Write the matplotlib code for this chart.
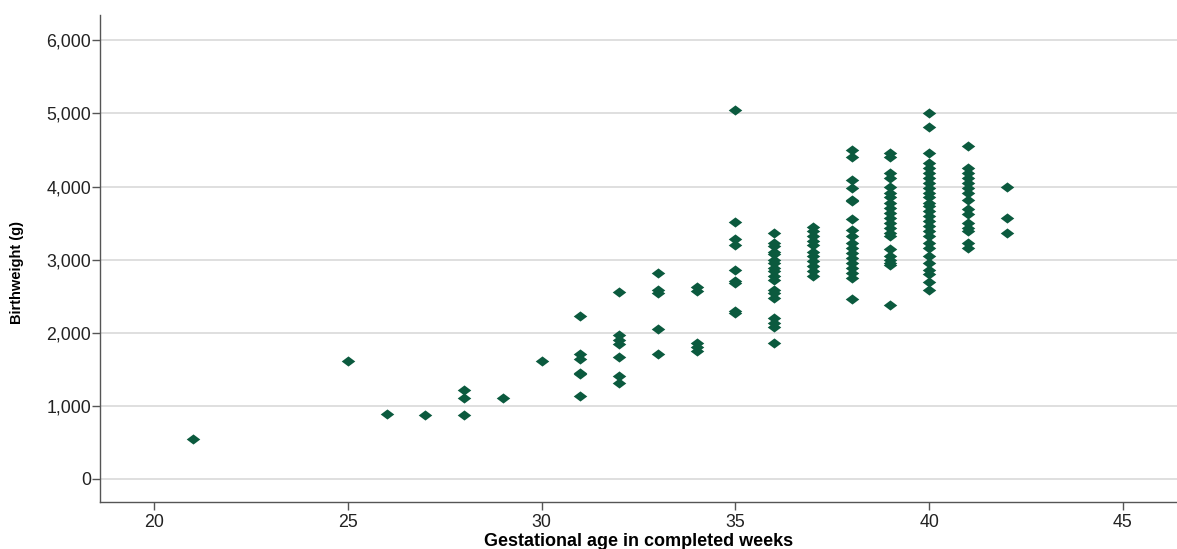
import numpy as np
from matplotlib import pyplot as plt
from matplotlib.path import Path
from matplotlib.ticker import FuncFormatter

# birthweight (g) by completed week of gestation
weeks = [21, 25, 26, 27, 28, 29, 30, 31, 32, 33, 34, 35, 36, 37, 38, 39, 40, 41, 42]
weights = [
    [550],
    [1610],
    [880],
    [870],
    [1220, 1100, 870],
    [1100],
    [1610],
    [2230, 1710, 1640, 1450, 1430, 1130],
    [2550, 1970, 1900, 1840, 1670, 1410, 1310],
    [2820, 2590, 2540, 2050, 1710],
    [2620, 2575, 1860, 1810, 1745],
    [5050, 3510, 3280, 3200, 2860, 2710, 2680, 2290, 2270],
    [3370, 3230, 3180, 3110, 3070, 3000, 2950, 2890, 2840, 2780, 2720,
     2590, 2540, 2480, 2200, 2130, 2080, 1860],
    [3450, 3390, 3320, 3250, 3200, 3110, 3050, 2980, 2910, 2840, 2770],
    [4500, 4410, 4090, 3980, 3820, 3800, 3560, 3410, 3320, 3230, 3160,
     3090, 3020, 2950, 2890, 2820, 2750, 2460],
    [4460, 4400, 4190, 4120, 4000, 3910, 3850, 3780, 3710, 3640, 3570,
     3500, 3430, 3370, 3320, 3140, 3050, 2990, 2950, 2920, 2380],
    [5010, 4810, 4460, 4320, 4260, 4190, 4120, 4050, 3980, 3910, 3850,
     3780, 3730, 3660, 3590, 3530, 3460, 3390, 3320, 3230, 3160, 3050,
     2950, 2860, 2800, 2700, 2590],
    [4550, 4260, 4190, 4120, 4050, 3980, 3910, 3820, 3690, 3620, 3500,
     3430, 3390, 3230, 3160],
    [3990, 3570, 3370],
]
yticks = [0, 1000, 2000, 3000, 4000, 5000, 6000]
xticks = [20, 25, 30, 35, 40, 45]

x = []
y = []
for w, vals in zip(weeks, weights):
    for v in vals:
        x.append(w)
        y.append(v)

plt.rcParams['font.family'] = ['Liberation Sans', 'DejaVu Sans']

# flat diamond like the original marker
diamond = Path([(-1, 0), (0, 0.75), (1, 0), (0, -0.75), (-1, 0)],
               [Path.MOVETO, Path.LINETO, Path.LINETO, Path.LINETO, Path.CLOSEPOLY])

fig = plt.figure(figsize=(11.77, 5.49), dpi=100)
ax = fig.add_axes([0.085, 0.086, 0.915, 0.887])

ax.scatter(x, y, marker=diamond, s=95, color='#0b5a3e', linewidths=0, zorder=3)

ax.set_xlim(18.6, 46.4)
ax.set_ylim(-315, 6350)
ax.set_xticks(xticks)
ax.set_yticks(yticks)
ax.yaxis.set_major_formatter(FuncFormatter(lambda v, p: f"{int(v):,}"))

ax.grid(axis='y', color='#d9d9d9', linewidth=1.2, zorder=0)
ax.grid(axis='x', visible=False)
for s in ['top', 'right']:
    ax.spines[s].set_visible(False)
for s in ['left', 'bottom']:
    ax.spines[s].set_color('#555555')
    ax.spines[s].set_linewidth(1.0)

ax.tick_params(axis='both', colors='#555555', length=6, width=1, labelsize=12.8,
               labelcolor='#222222')
ax.tick_params(axis='x', pad=3)
ax.tick_params(axis='y', pad=0.5)

ax.set_ylabel("Birthweight (g)", fontweight='bold', fontsize=10.5)
ax.yaxis.set_label_coords(-0.071, 0.47)
ax.set_xlabel("Gestational age in completed weeks", fontweight='bold', fontsize=13,
              va='bottom')
ax.xaxis.set_label_coords(0.5, -0.0985)

fig.savefig("out.png", dpi=100)
